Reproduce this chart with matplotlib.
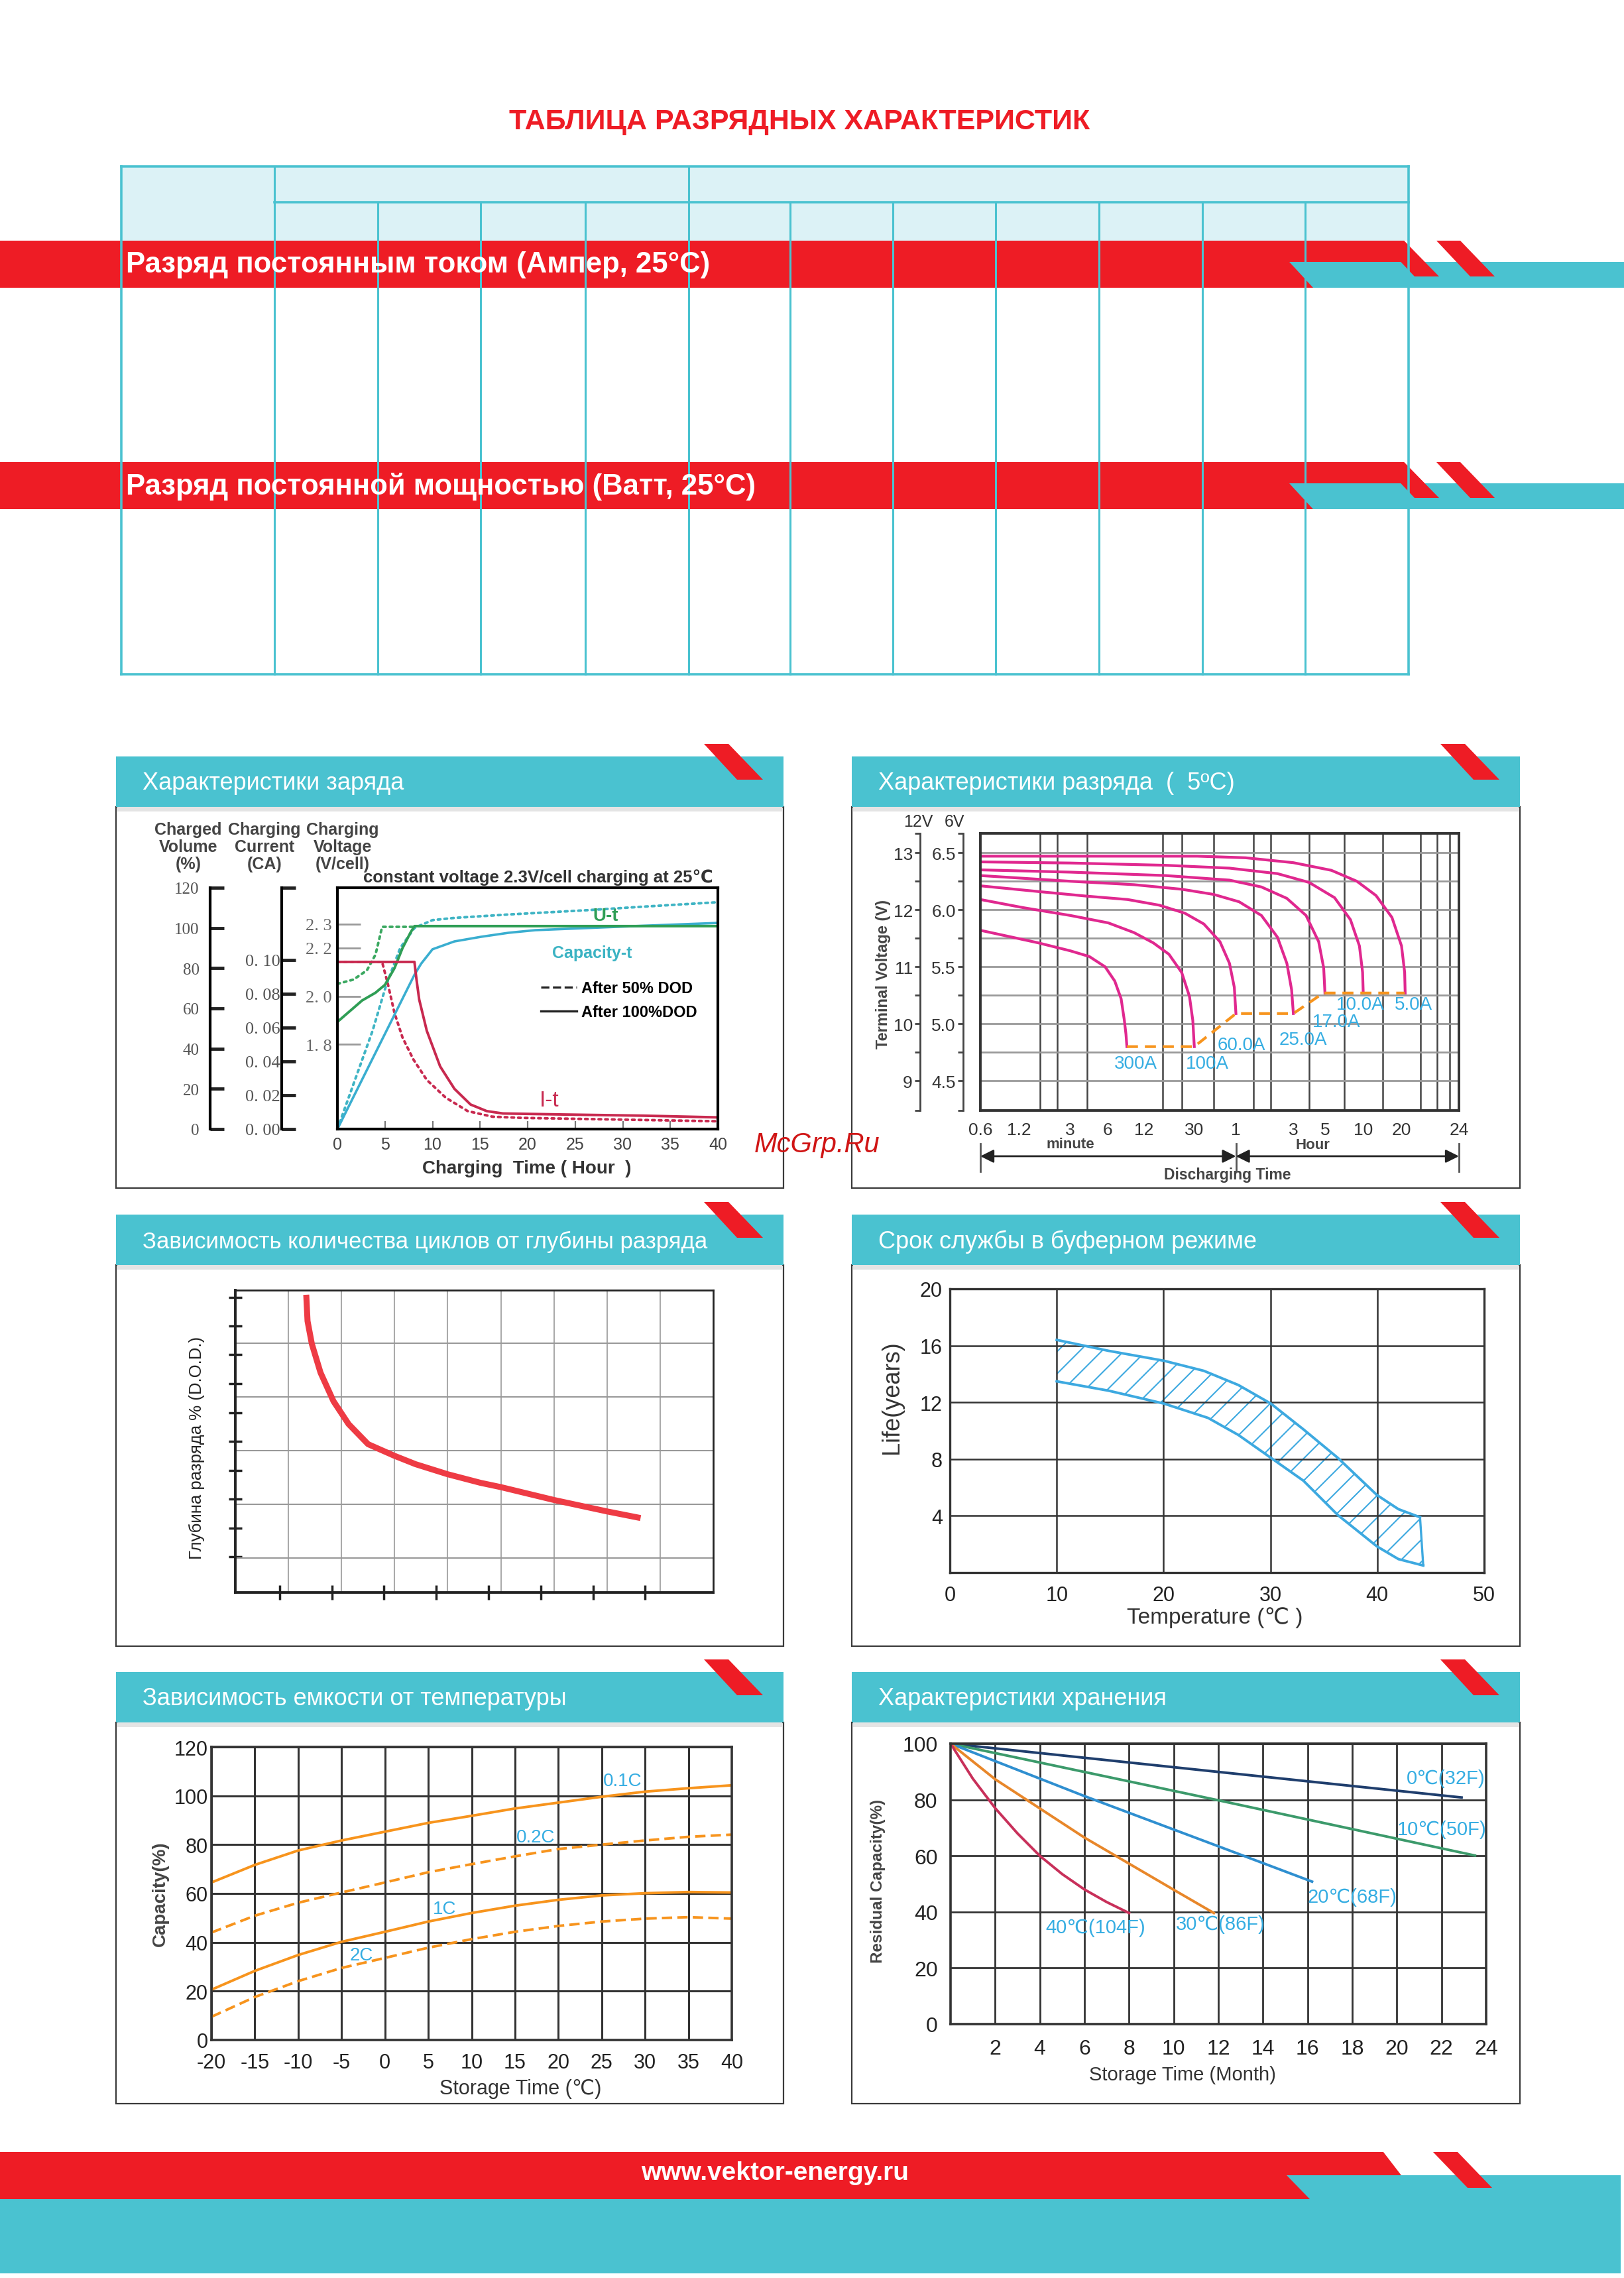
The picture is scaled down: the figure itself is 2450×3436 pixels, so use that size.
import numpy as np
import matplotlib
matplotlib.use("Agg")
import matplotlib.pyplot as plt
from matplotlib.patches import Polygon, Rectangle
from matplotlib.lines import Line2D

plt.rcParams['font.family'] = ['Liberation Sans', 'DejaVu Sans']
plt.rcParams['hatch.linewidth'] = 1.5
plt.rcParams['axes.unicode_minus'] = False

RED = '#ee1c25'
CYAN = '#4ac2d0'
PALE = '#dcf2f6'
LBLUE = '#35ade2'
ORANGE = '#f7941d'
NARROW = ['Liberation Sans Narrow', 'Liberation Sans', 'DejaVu Sans']
SERIF = ['Liberation Serif', 'DejaVu Serif']

W, H = 2450, 3437

# ---------------- data ----------------
# charge characteristics (hours / % charged / V per cell / CA)
chg_t_cap100 = [0, 8.1, 8.8, 10.0, 12.3, 15.1, 18.0, 20.8, 26.5, 32.2, 40]
chg_cap100 = [0, 76.7, 82.2, 89.4, 93.3, 95.6, 97.6, 98.9, 100.0, 101.1, 102.5]
chg_t_cap50 = [0, 3.7, 5.1, 6.6, 8.1, 10.0, 12.3, 18.0, 26.5, 32.2, 40]
chg_cap50 = [0, 48.9, 71.1, 90.0, 100.0, 103.9, 105.0, 106.7, 108.9, 110.6, 112.8]
chg_t_v100 = [0, 2.6, 4.0, 5.0, 6.0, 6.85, 7.7, 8.1, 40]
chg_v100 = [1.893, 1.982, 2.014, 2.047, 2.116, 2.200, 2.265, 2.291, 2.291]
chg_t_v50 = [0, 1.7, 3.1, 4.0, 4.4, 4.7, 8.1]
chg_v50 = [2.051, 2.069, 2.107, 2.172, 2.237, 2.288, 2.288]
chg_t_i100 = [0, 8.1, 8.3, 8.6, 9.4, 10.8, 12.3, 14.0, 15.7, 17.4, 23.7, 32.2, 40]
chg_i100 = [0.0987, 0.0987, 0.089, 0.0765, 0.058, 0.037, 0.0238, 0.0145, 0.0106,
            0.0092, 0.0086, 0.0079, 0.0069]
chg_t_i50 = [0, 4.7, 5.3, 6.0, 6.85, 8.0, 9.4, 11.4, 13.7, 16.3, 19.4, 26.5, 40]
chg_i50 = [0.0987, 0.0987, 0.0858, 0.0686, 0.054, 0.041, 0.029, 0.0185, 0.0106,
           0.0073, 0.0066, 0.0059, 0.0046]
chg_pct_ticks = [0, 20, 40, 60, 80, 100, 120]
chg_ca_ticks = [0.0, 0.02, 0.04, 0.06, 0.08, 0.10]
chg_ca_labels = ['0. 00', '0. 02', '0. 04', '0. 06', '0. 08', '0. 10']
chg_v_ticks = [1.8, 2.0, 2.2, 2.3]
chg_v_labels = ['1. 8', '2. 0', '2. 2', '2. 3']
chg_hours = [0, 5, 10, 15, 20, 25, 30, 35, 40]

# discharge characteristics at 5C (minutes / V per 6V block)
dis_scale_min = [0.6, 1.2, 3, 6, 12, 30, 60, 180, 300, 600, 1200, 1440]
dis_scale_pos = [0, 0.081, 0.188, 0.266, 0.341, 0.447, 0.534, 0.654, 0.720, 0.800, 0.880, 1.0]
dis_tick_lab = ['0.6', '1.2', '3', '6', '12', '30', '1', '3', '5', '10', '20', '24']
dis_grid_min = [1.2, 1.74, 2.36, 3, 4.07, 6, 12, 16.9, 23.9, 30, 41.3, 60, 84, 117,
                180, 232, 300, 424, 600, 849, 1200, 1275, 1342, 1397]
dis_t_300 = [0.6, 0.96, 1.69, 3, 4.27, 5.72, 6.88, 7.78, 8.28, 8.54, 8.7]
dis_v_300 = [5.82, 5.77, 5.71, 5.64, 5.59, 5.50, 5.375, 5.22, 5.03, 4.91, 4.80]
dis_t_100 = [0.6, 1.27, 3, 6.07, 9.97, 14.3, 18.97, 23.9, 27.5, 29.2, 30]
dis_v_100 = [6.09, 6.02, 5.95, 5.885, 5.80, 5.71, 5.61, 5.45, 5.24, 5.03, 4.80]
dis_t_60 = [0.6, 1.69, 4.03, 8.81, 15.97, 25.3, 35.2, 46, 53.9, 58.4, 60]
dis_v_60 = [6.21, 6.16, 6.12, 6.09, 6.04, 5.97, 5.875, 5.72, 5.53, 5.32, 5.09]
dis_t_25 = [0.6, 3, 9.97, 23.9, 41.3, 63.8, 97.7, 132.7, 159, 174, 180]
dis_v_25 = [6.30, 6.25, 6.22, 6.18, 6.135, 6.07, 5.95, 5.76, 5.53, 5.30, 5.09]
dis_t_17 = [0.6, 3, 17.9, 53.9, 97.7, 159, 221, 271, 294, 300]
dis_v_17 = [6.35, 6.33, 6.30, 6.26, 6.20, 6.10, 5.95, 5.72, 5.49, 5.27]
dis_t_10 = [0.6, 3, 17.9, 53.9, 132.7, 232, 357, 476, 560, 593, 600]
dis_v_10 = [6.42, 6.41, 6.39, 6.365, 6.317, 6.24, 6.106, 5.913, 5.683, 5.452, 5.27]
dis_t_5 = [0.6, 5.4, 31.6, 72.1, 180, 337, 535, 756, 1009, 1200, 1212, 1214]
dis_v_5 = [6.47, 6.47, 6.47, 6.456, 6.413, 6.346, 6.25, 6.125, 5.933, 5.683, 5.452, 5.27]
dis_curves_t = [dis_t_300, dis_t_100, dis_t_60, dis_t_25, dis_t_17, dis_t_10, dis_t_5]
dis_curves_v = [dis_v_300, dis_v_100, dis_v_60, dis_v_25, dis_v_17, dis_v_10, dis_v_5]
dis_cut_t = [8.7, 30, 60, 180, 292, 1212]
dis_cut_v = [4.80, 4.80, 5.09, 5.09, 5.27, 5.27]
dis_labels = ['300A', '100A', '60.0A', '25.0A', '17.0A', '10.0A', '5.0A']
dis_label_t = [10.3, 37.1, 66.9, 210, 367, 566, 1247]
dis_label_v = [4.654, 4.654, 4.817, 4.86, 5.019, 5.173, 5.173]
dis_v6_ticks = [4.5, 5.0, 5.5, 6.0, 6.5]
dis_v6_minor = [4.24, 4.75, 5.25, 5.75, 6.25, 6.67]
dis_v12_ticks = [9, 10, 11, 12, 13]
dis_v12_minor = [8.48, 9.5, 10.5, 11.5, 12.5, 13.34]

# cycles vs depth of discharge (unlabelled chart units)
dod_x = [16.4, 16.7, 17.7, 19.7, 22.7, 26.2, 30.7, 36.7, 41.7, 49.1, 56.7, 61.4, 73.7, 86.0, 93.7]
dod_y = [104.0, 94.8, 86.8, 76.8, 66.8, 58.8, 51.8, 47.8, 44.8, 41.3, 38.3, 36.8, 32.3, 28.3, 26.0]
dod_grid_x = [12.2, 24.5, 36.8, 49.1, 61.4, 73.7, 86.0, 98.3]
dod_grid_y = [12.1, 30.8, 49.6, 68.3, 87.0]
dod_tick_x = [10.2, 22.3, 34.4, 46.5, 58.5, 70.6, 82.7, 94.7]
dod_tick_y = [12.4, 22.5, 32.6, 42.6, 52.7, 62.8, 73.0, 83.1, 93.0, 103.0]

# float service life (deg C / years)
life_t_up = [10, 14.86, 20.04, 23.77, 27.0, 30.04, 33.08, 36.3, 39.96, 41.98, 44.0]
life_up = [16.4, 15.63, 14.93, 14.22, 13.22, 11.91, 10.10, 8.09, 5.47, 4.47, 3.90]
life_t_lo = [10, 14.86, 20.04, 24.17, 27.0, 30.04, 33.08, 36.3, 39.96, 41.98, 44.3]
life_lo = [13.48, 12.82, 11.91, 10.9, 9.70, 8.09, 6.48, 4.06, 1.85, 0.95, 0.50]

# capacity vs temperature (deg C / %)
temp_x = [-20, -15, -10, -5, 0, 5, 10, 15, 20, 25, 30, 35, 40]
cap_01c = [64.5, 71.7, 77.6, 81.7, 85.3, 88.9, 91.8, 94.8, 97.2, 99.6, 101.7, 103.1, 104.3]
cap_02c = [44.0, 50.9, 56.2, 60.4, 64.5, 68.7, 72.0, 75.2, 78.2, 80.0, 81.7, 83.2, 84.1]
cap_1c = [20.6, 28.3, 34.8, 40.2, 44.3, 48.5, 52.0, 55.0, 57.4, 59.2, 60.1, 60.6, 60.4]
cap_2c = [9.5, 17.6, 24.1, 29.5, 33.6, 37.8, 41.3, 44.3, 46.7, 48.5, 49.7, 50.3, 49.7]
cap_names = ['0.1C', '0.2C', '1C', '2C']
cap_label_x = [27.4, 17.4, 6.9, -2.7]
cap_label_y = [106.1, 83.2, 53.8, 34.8]

# storage: residual capacity vs months
st_m_0 = [0, 11.9, 22.9]
st_c_0 = [100, 90.0, 80.8]
st_m_10 = [0, 12, 23.5]
st_c_10 = [100, 79.8, 60.1]
st_m_20 = [0, 6, 12, 16.2]
st_c_20 = [100, 81.3, 63.4, 50.8]
st_m_30 = [0, 2, 4, 6, 8, 10, 11.8]
st_c_30 = [100, 87.3, 76.9, 66.5, 57.2, 47.9, 39.6]
st_m_40 = [0, 1, 2, 3, 4, 5, 6, 7, 8]
st_c_40 = [100, 87.5, 77, 68, 60, 53.5, 48, 43.5, 39.6]
st_names = ['0\u2103(32F)', '10\u2103(50F)', '20\u2103(68F)', '30\u2103(86F)', '40\u2103(104F)']
st_label_x = [22.2, 22.0, 18.0, 12.1, 6.5]
st_label_y = [87.8, 69.6, 45.3, 35.6, 34.4]

# ---------------- page ----------------
fig = plt.figure(figsize=(W / 100, H / 100), dpi=100)


def box(x0, y0, x1, y1):
    return [x0 / W, 1 - y1 / H, (x1 - x0) / W, (y1 - y0) / H]


page = fig.add_axes([0, 0, 1, 1])
page.set_xlim(0, W)
page.set_ylim(H, 0)
page.axis('off')


def poly(pts, color):
    page.add_patch(Polygon(pts, closed=True, fc=color, ec='none'))


page.text(1206, 184, 'ТАБЛИЦА РАЗРЯДНЫХ ХАРАКТЕРИСТИК', color=RED, fontsize=31,
          fontweight='bold', ha='center', va='center', family=NARROW)

# table grid
tx0, tx1, ty0, ty1 = 183, 2125, 252, 1018
page.add_patch(Rectangle((tx0, ty0), tx1 - tx0, 364 - ty0, fc=PALE, ec='none'))
col_x = [414, 570, 725, 883, 1039, 1192, 1347, 1502, 1658, 1814, 1969]
for x in col_x:
    page.plot([x, x], [ty0 if x in (414, 1039) else 306, ty1], color=CYAN, lw=2.2)
for x in (tx0, tx1):
    page.plot([x, x], [ty0, ty1], color=CYAN, lw=2.6)
for y, xa in ((ty0, tx0), (306, 414), (ty1, tx0)):
    page.plot([xa, tx1], [y, y], color=CYAN, lw=2.6)


def band(y0, text):
    poly([(0, y0), (2118, y0), (2149, y0 + 32), (2149, y0 + 71), (0, y0 + 71)], RED)
    poly([(1945, y0 + 32), (2450, y0 + 32), (2450, y0 + 71), (1981, y0 + 71)], CYAN)
    poly([(2083, y0), (2118, y0), (2171, y0 + 54), (2134, y0 + 54)], RED)
    poly([(2167, y0), (2203, y0), (2255, y0 + 54), (2218, y0 + 54)], RED)
    page.text(190, y0 + 36, text, color='white', fontsize=31.5, fontweight='bold',
              va='center', family=NARROW)


band(364, 'Разряд постоянным током (Ампер, 25°C)')
band(698, 'Разряд постоянной мощностью (Ватт, 25°C)')

# footer
poly([(0, 3247), (2087, 3247), (2117, 3286), (2117, 3318), (0, 3318)], RED)
poly([(1941, 3282), (2445, 3282), (2445, 3430), (0, 3430), (0, 3318), (1976, 3318)], CYAN)
poly([(2162, 3247), (2199, 3247), (2251, 3301), (2214, 3301)], RED)
page.text(1169, 3278, 'www.vektor-energy.ru', color='white', fontsize=28,
          fontweight='bold', ha='center', va='center', family=NARROW)

# panels
panels = [
    (175, 1182, 1142, 1793, 'Характеристики заряда', 26),
    (1285, 2293, 1142, 1793, 'Характеристики разряда  (  5ºC)', 26),
    (175, 1182, 1833, 2484, 'Зависимость количества циклов от глубины разряда', 25),
    (1285, 2293, 1833, 2484, 'Срок службы в буферном режиме', 26),
    (175, 1182, 2523, 3174, 'Зависимость емкости от температуры', 26),
    (1285, 2293, 2523, 3174, 'Характеристики хранения', 26),
]
for x0, x1, y0, y1, title, fs in panels:
    page.add_patch(Rectangle((x0, y0 + 76), x1 - x0, y1 - y0 - 76, fc='white',
                             ec='#3a3a3a', lw=1.6))
    page.add_patch(Rectangle((x0 + 2, y0 + 76), x1 - x0 - 4, 7, fc='#e4e4e4', ec='none'))
    poly([(x0, y0), (x1, y0), (x1, y0 + 76), (x0, y0 + 76)], CYAN)
    poly([(x1 - 120, y0 - 19), (x1 - 83, y0 - 19), (x1 - 31, y0 + 35), (x1 - 70, y0 + 35)], RED)
    page.text(x0 + 40, y0 + 40, title, color='white', fontsize=fs, va='center', family=NARROW)

page.text(1233, 1727, 'McGrp.Ru', color='#d01515', fontsize=30, style='italic',
          ha='center', va='center')

# ---------------- chart 1: charge ----------------
GREEN = '#2f9e55'
TEAL = '#3aaed0'
CRIM = '#c8294f'
DOT = (0, (1, 1.6))


def v2p(v):
    return 102 + (np.asarray(v) - 2.3) * 119.7


def p2v(p):
    return 2.3 + (np.asarray(p) - 102) / 119.7


def i2p(i):
    return np.asarray(i) * 842.0


def p2i(p):
    return np.asarray(p) / 842.0


ax1 = fig.add_axes(box(509, 1340, 1083, 1704))
ax1.set_xlim(0, 40)
ax1.set_ylim(0, 120)
ax1.plot(chg_t_cap50, chg_cap50, color='#3fb4c4', lw=2.8, ls=DOT, dash_capstyle='round')
ax1.plot(chg_t_v50, v2p(chg_v50), color='#3aa860', lw=2.8, ls=DOT, dash_capstyle='round')
ax1.plot(chg_t_i50, i2p(chg_i50), color=CRIM, lw=2.8, ls=DOT, dash_capstyle='round')
ax1.plot(chg_t_cap100, chg_cap100, color=TEAL, lw=2.6)
ax1.plot(chg_t_v100, v2p(chg_v100), color=GREEN, lw=2.8)
ax1.plot(chg_t_i100, i2p(chg_i100), color=CRIM, lw=2.8)
ax1.text(28.2, 106, 'U-t', color=GREEN, fontsize=20, fontweight='bold', ha='center', va='center')
ax1.text(26.8, 87.8, 'Capacity-t', color='#3bb3c3', fontsize=18, fontweight='bold',
         ha='center', va='center')
ax1.text(22.3, 14.4, 'I-t', color=CRIM, fontsize=24, ha='center', va='center')
ax1.legend(handles=[Line2D([], [], color='#222', ls='--', lw=2.4),
                    Line2D([], [], color='#222', lw=2.4)],
           labels=['After 50% DOD', 'After 100%DOD'], loc='upper left',
           bbox_to_anchor=(0.535, 0.615), frameon=False, handlelength=2.3,
           handletextpad=0.3, labelspacing=0.55, borderpad=0, borderaxespad=0,
           prop={'weight': 'bold', 'size': 17})
for s in ax1.spines.values():
    s.set_linewidth(3)
ax1.set_yticks([])
ax1.set_xticks(chg_hours)
ax1.tick_params(axis='x', direction='in', length=9, width=1.6, color='#777',
                labelsize=18, labelcolor='#444', pad=8)

vax = ax1.secondary_yaxis(0, functions=(p2v, v2p))
vax.set_yticks(chg_v_ticks, labels=chg_v_labels, family=SERIF, fontsize=19, color='#666')
vax.tick_params(direction='in', length=25, width=2, color='#999', pad=6)
vax.spines['left'].set_visible(False)

pax = ax1.secondary_yaxis(-0.334, functions=(lambda p: p, lambda p: p))
pax.set_yticks(chg_pct_ticks, labels=[str(v) for v in chg_pct_ticks], family=SERIF,
               fontsize=18, color='#555')
pax.tick_params(direction='in', length=15, width=3.5, color='#222', pad=12)
pax.spines['left'].set_linewidth(3)

iax = ax1.secondary_yaxis(-0.146, functions=(p2i, i2p))
iax.set_yticks(chg_ca_ticks, labels=chg_ca_labels, family=SERIF, fontsize=19, color='#555')
iax.set_yticks([120 / 842.0], minor=True)
iax.tick_params(which='both', direction='in', length=15, width=3.5, color='#222', pad=2)
iax.spines['left'].set_linewidth(3)

for cx, txt in ((284, 'Charged\nVolume\n(%)'), (399, 'Charging\nCurrent\n(CA)'),
                (517, 'Charging\nVoltage\n(V/cell)')):
    page.text(cx, 1278, txt, ha='center', va='center', fontsize=18, fontweight='bold',
              color='#444', linespacing=1.1)
page.text(812, 1324, 'constant voltage 2.3V/cell charging at 25\u2103', ha='center',
          va='center', fontsize=18.5, fontweight='bold', color='#333')
page.text(795, 1763, 'Charging  Time ( Hour  )', ha='center', va='center', fontsize=20,
          fontweight='bold', color='#333')

# ---------------- chart 2: discharge ----------------
MAG = '#e0288f'
pos_ref = np.array(dis_scale_pos)
log_ref = np.log10(dis_scale_min)


def dis_fwd(m):
    return np.interp(np.log10(np.clip(m, 1e-6, None)), log_ref, pos_ref)


def dis_inv(p):
    return 10 ** np.interp(p, pos_ref, log_ref)


ax2 = fig.add_axes(box(1479, 1258, 2201, 1676))
ax2.set_xscale('function', functions=(dis_fwd, dis_inv))
ax2.set_xlim(0.6, 1440)
ax2.set_ylim(4.24, 6.67)
ax2.set_xticks(dis_scale_min, labels=dis_tick_lab)
ax2.set_xticks(dis_grid_min, minor=True)
ax2.set_yticks(np.arange(4.5, 6.51, 0.25))
ax2.set_yticklabels([])
ax2.tick_params(which='both', length=0)
ax2.tick_params(axis='x', labelsize=19, labelcolor='#333', pad=12)
ax2.grid(True, which='minor', axis='x', color='#444', lw=1.8)
ax2.grid(True, which='major', axis='y', color='#999', lw=2)
for s in ax2.spines.values():
    s.set_linewidth(2.8)
    s.set_color('#333')
for t, v in zip(dis_curves_t, dis_curves_v):
    ax2.plot(t, v, color=MAG, lw=3, solid_joinstyle='round')
ax2.plot(dis_cut_t, dis_cut_v, color=ORANGE, lw=3, ls=(0, (4, 2.5)))
for lab, t, v in zip(dis_labels, dis_label_t, dis_label_v):
    ax2.text(t, v, lab, color=LBLUE, fontsize=20, ha='center', va='center')

s6 = ax2.secondary_yaxis(-0.036)
s6.set_yticks(dis_v6_ticks, labels=['4.5', '5.0', '5.5', '6.0', '6.5'], fontsize=19, color='#333')
s6.set_yticks(dis_v6_minor, minor=True)
s6.tick_params(which='both', direction='out', length=6, width=2, color='#444', pad=2)
s6.spines['left'].set_linewidth(2)
s6.spines['left'].set_color('#444')
s12 = ax2.secondary_yaxis(-0.126, functions=(lambda v: 2 * v, lambda v: v / 2))
s12.set_yticks(dis_v12_ticks, labels=[str(v) for v in dis_v12_ticks], fontsize=19, color='#333')
s12.set_yticks(dis_v12_minor, minor=True)
s12.tick_params(which='both', direction='out', length=6, width=2, color='#444', pad=2)
s12.spines['left'].set_linewidth(2)
s12.spines['left'].set_color('#444')

xt = ax2.get_xaxis_transform()
for a, b in ((dis_scale_min[0], dis_scale_min[6]), (dis_scale_min[6], dis_scale_min[-1])):
    ax2.annotate('', xy=(a, -0.165), xytext=(b, -0.165), xycoords=xt, textcoords=xt,
                 arrowprops=dict(arrowstyle='<|-|>', color='#222', lw=2, mutation_scale=30,
                                 shrinkA=0, shrinkB=0), annotation_clip=False)
for m in (dis_scale_min[0], dis_scale_min[6], dis_scale_min[-1]):
    ax2.plot([m, m], [-0.12, -0.22], transform=xt, color='#555', lw=2, clip_on=False)

page.text(1385, 1240, '12V', ha='center', va='center', fontsize=18, color='#333')
page.text(1440, 1240, '6V', ha='center', va='center', fontsize=18, color='#333')
page.text(1332, 1470, 'Terminal Voltage (V)', rotation=90, ha='center', va='center',
          fontsize=17, fontweight='bold', color='#444')
page.text(1615, 1727, 'minute', ha='center', va='center', fontsize=16, fontweight='bold', color='#444')
page.text(1980, 1728, 'Hour', ha='center', va='center', fontsize=16, fontweight='bold', color='#444')
page.text(1852, 1773, 'Discharging Time', ha='center', va='center', fontsize=16.5,
          fontweight='bold', color='#444')

# ---------------- chart 3: cycles vs DOD ----------------
ax3 = fig.add_axes(box(355, 1947, 1076, 2403))
ax3.set_xlim(0, 110.5)
ax3.set_ylim(0, 105.6)
for gx in dod_grid_x:
    ax3.axvline(gx, color='#aaa', lw=1.5)
for gy in dod_grid_y:
    ax3.axhline(gy, color='#999', lw=1.5)
ax3.plot(dod_x, dod_y, color='#ee3b44', lw=6.5, solid_capstyle='butt')
ax3.set_xticks(dod_tick_x, labels=[])
ax3.set_yticks(dod_tick_y, labels=[])
ax3.tick_params(axis='x', direction='inout', length=16, width=2.5, color='#222')
ax3.tick_params(axis='y', direction='inout', length=14, width=2.5, color='#222')
for k, s in ax3.spines.items():
    s.set_color('#222')
    s.set_linewidth(2.8 if k in ('left', 'bottom') else 2)
page.text(297, 2184, 'Глубина разряда % (D.O.D.)', rotation=90, ha='center', va='center',
          fontsize=18.5, color='#222')

# ---------------- chart 4: float life ----------------
LIFEB = '#3da9e0'
ax4 = fig.add_axes(box(1433, 1945, 2239, 2373))
ax4.set_xlim(0, 50)
ax4.set_ylim(0, 20)
ax4.set_xticks([0, 10, 20, 30, 40, 50])
ax4.set_yticks([4, 8, 12, 16, 20])
ax4.grid(True, color='#333', lw=1.8)
ax4.tick_params(length=0, labelsize=22, labelcolor='#222')
ax4.tick_params(axis='x', pad=14)
ax4.tick_params(axis='y', pad=8)
for s in ax4.spines.values():
    s.set_linewidth(2.4)
    s.set_color('#333')
ax4.fill(np.r_[life_t_up, life_t_lo[::-1]], np.r_[life_up, life_lo[::-1]],
         facecolor='none', edgecolor=LIFEB, hatch='/', lw=0)
ax4.plot(life_t_up, life_up, color=LIFEB, lw=2.8)
ax4.plot(life_t_lo, life_lo, color=LIFEB, lw=2.8)
ax4.plot([life_t_up[-1], life_t_lo[-1]], [life_up[-1], life_lo[-1]], color=LIFEB, lw=2.4)
page.text(1345, 2108, 'Life(years)', rotation=90, ha='center', va='center', fontsize=26, color='#333')
page.text(1833, 2440, 'Temperature (\u2103 )', ha='center', va='center', fontsize=24, color='#333')

# ---------------- chart 5: capacity vs temperature ----------------
ax5 = fig.add_axes(box(319, 2636, 1104, 3078))
ax5.set_xlim(-20, 40)
ax5.set_ylim(0, 120)
ax5.set_xticks(temp_x)
ax5.set_yticks([0, 20, 40, 60, 80, 100, 120])
ax5.grid(True, color='#333', lw=2.2)
ax5.tick_params(length=0, labelsize=22, labelcolor='#222')
ax5.tick_params(axis='x', pad=14)
ax5.tick_params(axis='y', pad=4)
for s in ax5.spines.values():
    s.set_linewidth(2.6)
    s.set_color('#333')
ax5.plot(temp_x, cap_01c, color=ORANGE, lw=2.8)
ax5.plot(temp_x, cap_02c, color=ORANGE, lw=2.8, ls=(0, (4, 2)))
ax5.plot(temp_x, cap_1c, color=ORANGE, lw=2.8)
ax5.plot(temp_x, cap_2c, color=ORANGE, lw=2.8, ls=(0, (4, 2)))
for lab, x, y in zip(cap_names, cap_label_x, cap_label_y):
    ax5.text(x, y, lab, color=LBLUE, fontsize=20, ha='center', va='center')
page.text(785, 3151, 'Storage Time (\u2103)', ha='center', va='center', fontsize=22, color='#333')
page.text(242, 2857, 'Capacity(%)', rotation=90, ha='center', va='center', fontsize=20,
          fontweight='bold', color='#444')

# ---------------- chart 6: storage ----------------
ax6 = fig.add_axes(box(1434, 2631, 2242, 3054))
ax6.set_xlim(0, 24)
ax6.set_ylim(0, 100)
ax6.set_xticks(range(2, 25, 2))
ax6.set_xticks([0], minor=True)
ax6.set_yticks([0, 20, 40, 60, 80, 100])
ax6.grid(True, color='#333', lw=2)
ax6.tick_params(which='both', length=0, labelsize=23, labelcolor='#222')
ax6.tick_params(axis='x', pad=16)
ax6.tick_params(axis='y', pad=14)
for s in ax6.spines.values():
    s.set_linewidth(2.6)
    s.set_color('#333')
st_colors = ['#1f3e6d', '#3c9a6b', '#2f8fd0', '#e8872a', '#c8305a']
for m, c, col in zip([st_m_0, st_m_10, st_m_20, st_m_30, st_m_40],
                     [st_c_0, st_c_10, st_c_20, st_c_30, st_c_40], st_colors):
    ax6.plot(m, c, color=col, lw=2.8)
for lab, x, y in zip(st_names, st_label_x, st_label_y):
    ax6.text(x, y, lab, color=LBLUE, fontsize=21, ha='center', va='center')
page.text(1784, 3130, 'Storage Time (Month)', ha='center', va='center', fontsize=21, color='#333')
page.text(1324, 2837, 'Residual Capacity(%)', rotation=90, ha='center', va='center',
          fontsize=17.5, fontweight='bold', color='#444')

fig.savefig('out.png', dpi=100)
